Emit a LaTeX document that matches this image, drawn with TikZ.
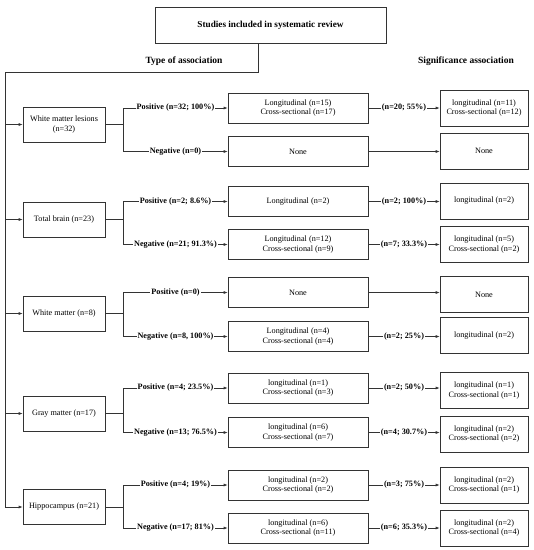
\documentclass[tikz,border=0pt]{standalone}
\usepackage{fontspec}
\setmainfont{Liberation Serif}
\usetikzlibrary{arrows.meta}
\begin{document}
\begin{tikzpicture}[x=1pt,y=-1pt,
  every node/.style={font=\fontsize{8.2}{9.6}\selectfont},
  line/.style={draw=black!80, line width=0.6pt},
  arr/.style={line, -{Latex[length=4pt,width=3pt]}},
  lbox/.style={draw=black!80, line width=0.6pt, minimum width=82pt, minimum height=35pt, inner sep=0pt, align=center},
  mbox/.style={draw=black!80, line width=0.6pt, minimum width=140pt, minimum height=30pt, inner sep=0pt, align=center},
  rbox/.style={draw=black!80, line width=0.6pt, minimum width=88pt, minimum height=36pt, inner sep=0pt, align=center},
  lbl/.style={fill=white, inner sep=1pt, font=\bfseries\fontsize{8.2}{9.6}\selectfont},
  hdr/.style={font=\bfseries\fontsize{9.5}{11}\selectfont}]
\useasboundingbox (0,0) rectangle (534,550);

\node[draw=black!80, line width=0.6pt, minimum width=231pt, minimum height=36pt, font=\bfseries\fontsize{9.2}{11}\selectfont] (T) at (270.5,25) {Studies included in systematic review};
\node[hdr] (h1) at (184,61) {Type of association};
\node[hdr] (h2) at (466,61) {Significance association};

% left boxes
\node[lbox] (L1) at (64,124.5) {White matter lesions\\(n=32)};
\node[lbox] (L2) at (64,219.5) {Total brain (n=23)};
\node[lbox] (L3) at (64,313.5) {White matter (n=8)};
\node[lbox] (L4) at (64,413.5) {Gray matter (n=17)};
\node[lbox] (L5) at (64,507) {Hippocampus (n=21)};

% middle boxes
\node[mbox] (M1p) at (298,108) {Longitudinal (n=15)\\Cross-sectional (n=17)};
\node[mbox] (M1n) at (298,151.5) {None};
\node[mbox] (M2p) at (298,201.5) {Longitudinal (n=2)};
\node[mbox] (M2n) at (298,244.5) {Longitudinal (n=12)\\Cross-sectional (n=9)};
\node[mbox] (M3p) at (298,292.5) {None};
\node[mbox] (M3n) at (298,336.5) {Longitudinal (n=4)\\Cross-sectional (n=4)};
\node[mbox] (M4p) at (298,388) {longitudinal (n=1)\\Cross-sectional (n=3)};
\node[mbox] (M4n) at (298,432.5) {longitudinal (n=6)\\Cross-sectional (n=7)};
\node[mbox] (M5p) at (298,485) {longitudinal (n=2)\\Cross-sectional (n=2)};
\node[mbox] (M5n) at (298,528) {longitudinal (n=6)\\Cross-sectional (n=11)};

% right boxes
\node[rbox] (R1p) at (484,108) {longitudinal (n=11)\\Cross-sectional (n=12)};
\node[rbox] (R1n) at (484,151) {None};
\node[rbox] (R2p) at (484,201) {longitudinal (n=2)};
\node[rbox] (R2n) at (484,244.5) {longitudinal (n=5)\\Cross-sectional (n=2)};
\node[rbox] (R3p) at (484,294.5) {None};
\node[rbox] (R3n) at (484,335.5) {longitudinal (n=2)};
\node[rbox] (R4p) at (484,390.5) {longitudinal (n=1)\\Cross-sectional (n=1)};
\node[rbox] (R4n) at (484,434) {longitudinal (n=2)\\Cross-sectional (n=2)};
\node[rbox] (R5p) at (484,485) {longitudinal (n=2)\\Cross-sectional (n=1)};
\node[rbox] (R5n) at (484,528) {longitudinal (n=2)\\Cross-sectional (n=4)};

% trunk
\coordinate (tk) at (5,72);
\draw[line] ([xshift=-12.5pt]T.south) -- ([xshift=-12.5pt]T.south |- tk) -- (tk) -- (tk |- L5.west);
\foreach \L in {L1,L2,L3,L4,L5}{
  \draw[arr] (tk |- \L.west) -- (\L.west);
}

% branches
\foreach \L/\P/\N/\pl/\nl in {
  L1/M1p/M1n/{Positive (n=32; 100\%)}/{Negative (n=0)},
  L2/M2p/M2n/{Positive (n=2; 8.6\%)}/{Negative (n=21; 91.3\%)},
  L3/M3p/M3n/{Positive (n=0)}/{Negative (n=8, 100\%)},
  L4/M4p/M4n/{Positive (n=4; 23.5\%)}/{Negative (n=13; 76.5\%)},
  L5/M5p/M5n/{Positive (n=4; 19\%)}/{Negative (n=17; 81\%)}}{
  \draw[line] (\L.east) -- ++(18,0) coordinate (j\L);
  \draw[arr] (j\L) |- node[pos=0.75,lbl]{\pl} (\P.west);
  \draw[arr] (j\L) |- node[pos=0.75,lbl]{\nl} (\N.west);
}

% second level
\foreach \M/\R/\t in {M1p/R1p/{(n=20; 55\%)}, M2p/R2p/{(n=2; 100\%)}, M2n/R2n/{(n=7; 33.3\%)},
  M3n/R3n/{(n=2; 25\%)}, M4p/R4p/{(n=2; 50\%)}, M4n/R4n/{(n=4; 30.7\%)},
  M5p/R5p/{(n=3; 75\%)}, M5n/R5n/{(n=6; 35.3\%)}}{
  \draw[arr] (\M.east) -- node[lbl]{\t} (\M.east -| \R.west);
}
\draw[arr] (M1n.east) -- (M1n.east -| R1n.west);
\draw[arr] (M3p.east) -- (M3p.east -| R3p.west);
\end{tikzpicture}
\end{document}
